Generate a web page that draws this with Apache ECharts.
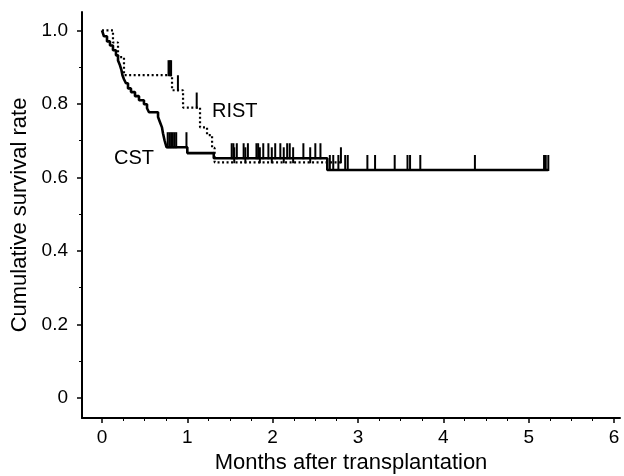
<!DOCTYPE html>
<html>
<head>
<meta charset="utf-8">
<script src="https://cdn.jsdelivr.net/npm/echarts@6/dist/echarts.min.js"></script>
<style>
  html, body { margin: 0; padding: 0; background: #fff; }
  #chart { width: 624px; height: 476px; }
</style>
</head>
<body>
<div id="chart"></div>
<script>
// CST (solid): time of each drop (months) and survival after it
const cstTime = [0, 0.023, 0.059, 0.094, 0.129, 0.164, 0.188, 0.211, 0.229, 0.240, 0.258, 0.281, 0.305, 0.340, 0.387, 0.434, 0.492, 0.528, 0.551, 0.657, 0.680, 0.703, 0.715, 0.733, 0.756, 1.00, 1.31, 2.64, 5.23]
const cstSurv = [1.0, 0.984, 0.970, 0.959, 0.946, 0.932, 0.918, 0.905, 0.891, 0.878, 0.867, 0.856, 0.842, 0.832, 0.821, 0.810, 0.799, 0.788, 0.777, 0.764, 0.750, 0.736, 0.720, 0.701, 0.682, 0.666, 0.652, 0.620, 0.620]
const cstCensor = [0.77, 0.79, 0.81, 0.83, 0.85, 0.87, 0.99, 1.52, 1.54, 1.58, 1.66, 1.71, 1.81, 1.83, 1.89, 1.95, 2.03, 2.09, 2.17, 2.20, 2.36, 2.50, 2.56, 2.67, 2.71, 2.77, 2.85, 2.88, 3.11, 3.20, 3.43, 3.58, 3.61, 3.73, 4.37, 5.18, 5.20, 5.23]

// RIST (dotted)
const ristTime = [0, 0.129, 0.188, 0.258, 0.821, 0.950, 1.149, 1.231, 1.29, 1.32, 2.80]
const ristSurv = [1.0, 0.967, 0.927, 0.878, 0.837, 0.790, 0.736, 0.715, 0.680, 0.641, 0.641]
const ristCensor = [0.78, 0.795, 0.81, 0.89, 1.11, 1.55, 1.68, 1.85, 1.99, 2.13, 2.24, 2.44, 2.80]

const xTicks = [0, 1, 2, 3, 4, 5, 6]
const xMinorTicks = [0.25, 0.5, 0.75, 1.25, 1.5, 1.75, 2.25, 2.5, 2.75, 3.25, 3.5, 3.75, 4.25, 4.5, 4.75, 5.25, 5.5, 5.75]
const yTicks = [0, 0.2, 0.4, 0.6, 0.8, 1.0]
const yMinorTicks = [0.1, 0.3, 0.5, 0.7, 0.9]

const FONT = 'Liberation Sans'

function pairs(xs, ys) {
  return xs.map((x, i) => [x, ys[i]])
}

// survival level of a step curve at time t
function levelAt(times, surv, t) {
  let s = surv[0]
  for (let i = 0; i < times.length; i++) {
    if (times[i] <= t) s = surv[i]
  }
  return s
}

function censorMarks(censor, times, surv) {
  return censor.map(t => [t, levelAt(times, surv, t)])
}

function tickSeries(data) {
  return {
    type: 'custom',
    silent: true,
    renderItem: (params, api) => {
      const p = api.coord([api.value(0), api.value(1)])
      return {
        type: 'line',
        shape: { x1: p[0], y1: p[1] + 1, x2: p[0], y2: p[1] - 15 },
        style: { stroke: '#000', lineWidth: 2 },
      }
    },
    data,
    z: 3,
  }
}

const chart = echarts.init(document.getElementById('chart'))

const xBase = { type: 'value', min: -0.234, max: 6.07, splitLine: { show: false } }
const yBase = { type: 'value', min: -0.055, max: 1.05, splitLine: { show: false } }

chart.setOption({
  animation: false,
  grid: { left: 82, right: 4, top: 12, bottom: 58, outerBoundsMode: 'none', containLabel: false },
  xAxis: [
    {
      ...xBase,
      position: 'bottom',
      name: 'Months after transplantation',
      nameLocation: 'middle',
      nameGap: 33,
      nameTextStyle: { fontFamily: FONT, fontSize: 22, color: '#000' },
      axisLine: { onZero: false, lineStyle: { color: '#000', width: 2 } },
      axisTick: { customValues: xTicks, length: 5, lineStyle: { color: '#000', width: 1.5 } },
      axisLabel: { customValues: xTicks, fontFamily: FONT, fontSize: 19, color: '#000', margin: 10 },
    },
    {
      ...xBase,
      position: 'bottom',
      axisLine: { show: false, onZero: false },
      axisTick: { customValues: xMinorTicks, length: 3, lineStyle: { color: '#000', width: 1 } },
      axisLabel: { show: false },
    },
  ],
  yAxis: [
    {
      ...yBase,
      position: 'left',
      name: 'Cumulative survival rate',
      nameLocation: 'middle',
      nameGap: 51,
      nameTextStyle: { fontFamily: FONT, fontSize: 22, color: '#000' },
      axisLine: { onZero: false, lineStyle: { color: '#000', width: 2 } },
      axisTick: { customValues: yTicks, length: 5, lineStyle: { color: '#000', width: 1.5 } },
      axisLabel: {
        customValues: yTicks,
        fontFamily: FONT,
        fontSize: 19,
        color: '#000',
        margin: 14,
        formatter: v => (v === 0 ? '0' : v.toFixed(1)),
      },
    },
    {
      ...yBase,
      position: 'left',
      axisLine: { show: false, onZero: false },
      axisTick: { customValues: yMinorTicks, length: 3, lineStyle: { color: '#000', width: 1 } },
      axisLabel: { show: false },
    },
  ],
  graphic: [
    { type: 'text', left: 212, top: 101, style: { text: 'RIST', font: '20px "Liberation Sans"', fill: '#000' } },
    { type: 'text', left: 114, top: 148, style: { text: 'CST', font: '20px "Liberation Sans"', fill: '#000' } },
  ],
  series: [
    {
      name: 'RIST',
      type: 'line',
      step: 'end',
      showSymbol: false,
      data: pairs(ristTime, ristSurv),
      lineStyle: { color: '#000', width: 2.2, type: [2, 2.5] },
      z: 2,
    },
    {
      name: 'CST',
      type: 'line',
      step: 'end',
      showSymbol: false,
      data: pairs(cstTime, cstSurv),
      lineStyle: { color: '#000', width: 2.6 },
      z: 2,
    },
    tickSeries(censorMarks(ristCensor, ristTime, ristSurv)),
    tickSeries(censorMarks(cstCensor, cstTime, cstSurv)),
  ],
})
</script>
</body>
</html>
